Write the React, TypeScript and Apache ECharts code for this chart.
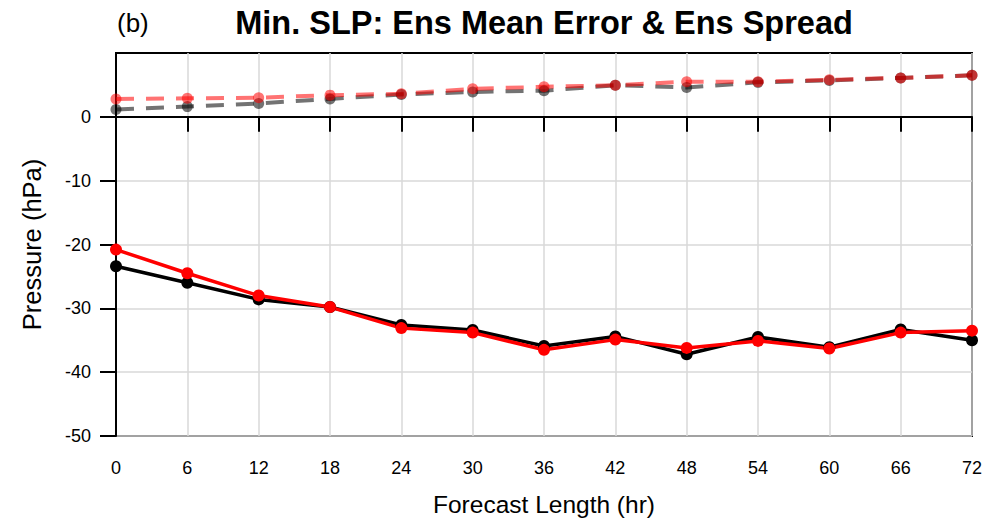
import React, { useEffect, useRef } from "react";
import * as echarts from "echarts";

const hours = [0, 6, 12, 18, 24, 30, 36, 42, 48, 54, 60, 66, 72];
const errorBlack = [-23.4, -26.0, -28.6, -29.8, -32.6, -33.4, -35.9, -34.4, -37.2, -34.5, -36.1, -33.3, -35.0];
const errorRed = [-20.8, -24.5, -28.0, -29.8, -33.1, -33.8, -36.5, -34.9, -36.2, -35.1, -36.3, -33.8, -33.5];
const spreadBlack = [1.15, 1.6, 2.1, 2.8, 3.5, 3.9, 4.1, 4.95, 4.6, 5.4, 5.7, 6.1, 6.5];
const spreadRed = [2.8, 2.9, 3.0, 3.4, 3.6, 4.4, 4.7, 4.95, 5.5, 5.5, 5.8, 6.1, 6.5];
const yTicks = [-50, -40, -30, -20, -10, 0];

const FONT = "'Liberation Sans', Arial, sans-serif";

function pairs(vals: number[]) {
  return hours.map((h, i) => [h, vals[i]]);
}

export default function App() {
  const ref = useRef<HTMLDivElement>(null);
  useEffect(() => {
    if (!ref.current) return;
    const chart = echarts.init(ref.current, undefined, { renderer: "svg" });
    const solid = (name: string, color: string, vals: number[]) => ({
      name,
      type: "line",
      data: pairs(vals),
      symbol: "circle",
      symbolSize: 12,
      lineStyle: { color, width: 3.5 },
      itemStyle: { color },
      z: 3,
    });
    const dashed = (name: string, color: string, vals: number[]) => ({
      name,
      type: "line",
      data: pairs(vals),
      symbol: "circle",
      symbolSize: 11,
      lineStyle: { color, width: 4, type: [18, 12] },
      itemStyle: { color },
      z: 2,
    });
    chart.setOption({
      animation: false,
      backgroundColor: "#fff",
      textStyle: { fontFamily: FONT },
      title: [
        {
          text: "Min. SLP: Ens Mean Error & Ens Spread",
          left: 544,
          top: 6,
          padding: 0,
          textAlign: "center",
          textStyle: { fontSize: 32.5, lineHeight: 34, fontWeight: "bold", color: "#000", fontFamily: FONT },
        },
        {
          text: "(b)",
          left: 117,
          top: 8,
          padding: 0,
          textStyle: { fontSize: 26, lineHeight: 30, fontWeight: "normal", color: "#000", fontFamily: FONT },
        },
      ],
      grid: {
        left: 116,
        right: 24,
        top: 53,
        bottom: 85,
        show: true,
        borderColor: "#000",
        borderWidth: 2,
        backgroundColor: "transparent",
      },
      xAxis: {
        type: "value",
        min: 0,
        max: 72,
        interval: 6,
        name: "Forecast Length (hr)",
        nameLocation: "middle",
        nameGap: 56,
        nameTextStyle: { fontSize: 24.5, color: "#000", fontFamily: FONT },
        axisLine: { show: true, lineStyle: { color: "#000", width: 2 } },
        axisTick: { show: true, length: 15, lineStyle: { color: "#000", width: 2 } },
        axisLabel: { fontSize: 18, color: "#000", margin: 23, fontFamily: FONT },
        splitLine: { show: true, lineStyle: { color: "#d9d9d9", width: 1.5 } },
      },
      yAxis: {
        type: "value",
        min: -50,
        max: 10,
        interval: 10,
        name: "Pressure (hPa)",
        nameLocation: "middle",
        nameGap: 71,
        nameTextStyle: { fontSize: 25.5, color: "#000", fontFamily: FONT },
        axisLine: { show: true, lineStyle: { color: "#000", width: 2 } },
        axisTick: { show: true, length: 16, lineStyle: { color: "#000", width: 2 }, customValues: yTicks },
        axisLabel: { fontSize: 18, color: "#000", margin: 25, fontFamily: FONT, customValues: yTicks },
        splitLine: { show: true, lineStyle: { color: "#d9d9d9", width: 1.5 } },
      },
      series: [
        dashed("Spread black", "rgba(0,0,0,0.55)", spreadBlack),
        dashed("Spread red", "rgba(255,0,0,0.55)", spreadRed),
        solid("Error black", "#000", errorBlack),
        solid("Error red", "#ff0000", errorRed),
      ],
    });
    return () => chart.dispose();
  }, []);
  return (
    <div
      ref={ref}
      style={{ position: "fixed", left: 0, top: 0, width: 996, height: 522 }}
    />
  );
}
